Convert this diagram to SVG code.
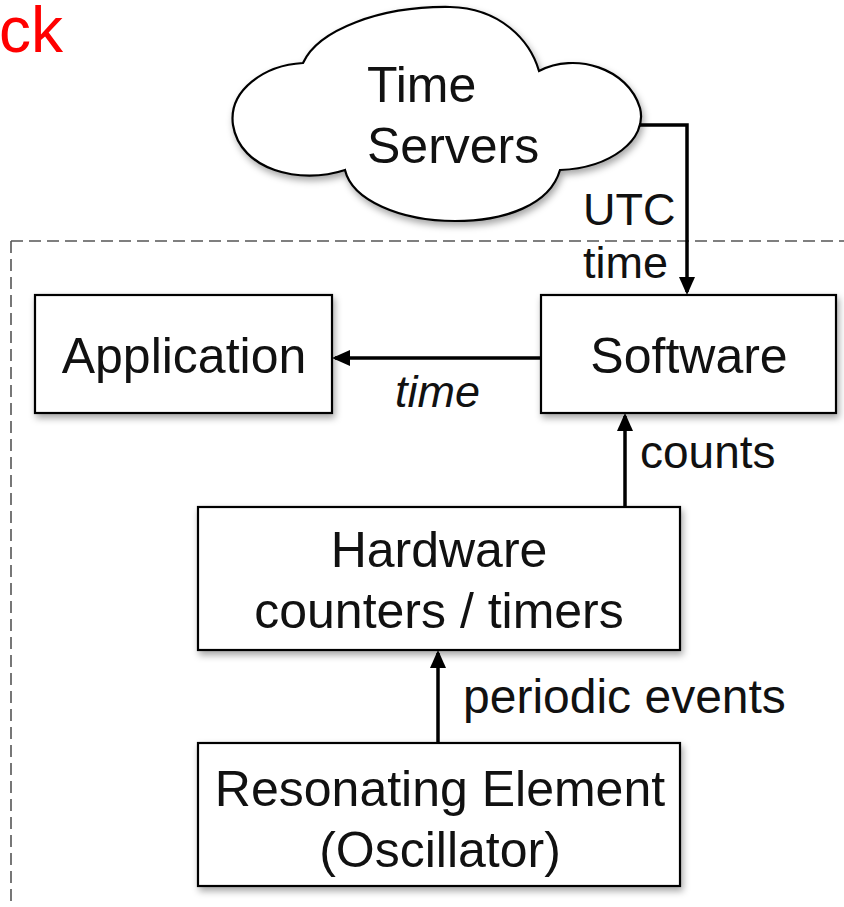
<svg xmlns="http://www.w3.org/2000/svg" width="844" height="907" viewBox="0 0 844 907">
<style>
.box{fill:#fff;stroke:#000;stroke-width:2.2}
.t{font-family:"Liberation Sans",Arial,sans-serif;font-size:50px;fill:#111}
.c{text-anchor:middle}
.lbl{font-family:"Liberation Sans",Arial,sans-serif;fill:#111}
.edge{fill:none;stroke:#000;stroke-width:3.5}
</style>
<defs>
<filter id="sh" x="-10%" y="-10%" width="125%" height="130%">
<feDropShadow dx="2" dy="4" stdDeviation="3.5" flood-color="#000" flood-opacity="0.35"/>
</filter>
<marker id="ah" markerUnits="userSpaceOnUse" markerWidth="20" markerHeight="16" refX="15" refY="8" orient="auto">
<path d="M0,0 L18,8 L0,16 Z" fill="#000"/>
</marker>
</defs>
<rect width="844" height="907" fill="#fff"/>
<text x="63" y="52" text-anchor="end" font-family="Liberation Sans,Arial,sans-serif" font-size="64" fill="#ff0000">ck</text>
<path d="M11,241 H844 M11,241 V907" fill="none" stroke="#555" stroke-width="1.6" stroke-dasharray="12,6"/>
<g id="time-servers">
<path filter="url(#sh)" fill="#fff" stroke="#000" stroke-width="2.2" d="M303,63 C318,30 380,6 450,7 C500,8 530,40 539,71 C575,52 628,68 640,108 C648,140 610,168 560,170 C550,205 505,221 455,221 C400,221 352,200 345,170 C300,185 240,170 233,125 C228,90 265,65 303,63 Z"/>
<text class="t" x="367" y="102" font-size="49">Time</text>
<text class="t" x="367" y="163" font-size="49">Servers</text>
</g>
<g id="application">
<rect class="box" filter="url(#sh)" x="35" y="295" width="297" height="118"/>
<text class="t c" x="184" y="373">Application</text>
</g>
<g id="software">
<rect class="box" filter="url(#sh)" x="541" y="295" width="295" height="118"/>
<text class="t c" x="689" y="373">Software</text>
</g>
<g id="hardware">
<rect class="box" filter="url(#sh)" x="198" y="507" width="482" height="143"/>
<text class="t c" x="439" y="567">Hardware</text>
<text class="t c" x="439" y="628">counters / timers</text>
</g>
<g id="oscillator">
<rect class="box" filter="url(#sh)" x="198" y="743" width="482" height="143"/>
<text class="t c" x="440" y="806">Resonating Element</text>
<text class="t c" x="440" y="867">(Oscillator)</text>
</g>
<g id="connectors">
<path class="edge" d="M639,125 H687 V292" marker-end="url(#ah)"/>
<path class="edge" d="M541,358 H335" marker-end="url(#ah)"/>
<path class="edge" d="M625,507 V416" marker-end="url(#ah)"/>
<path class="edge" d="M438,743 V653" marker-end="url(#ah)"/>
<text class="lbl" x="583" y="225" font-size="45">UTC</text>
<text class="lbl" x="583" y="278" font-size="45">time</text>
<text class="lbl" x="395" y="407" font-size="45" font-style="italic">time</text>
<text class="lbl" x="640" y="468" font-size="46">counts</text>
<text class="lbl" x="463" y="713" font-size="48">periodic events</text>
</g>
</svg>
